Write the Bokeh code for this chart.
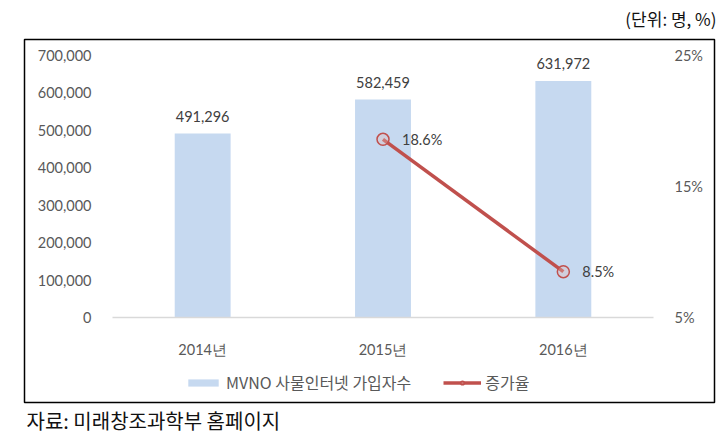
from bokeh.plotting import figure
from bokeh.models import (ColumnDataSource, Range1d, LinearAxis, FixedTicker, Legend, LegendItem,
                          LabelSet, Label, BoxAnnotation, NumeralTickFormatter, PrintfTickFormatter)
from bokeh.core.properties import value
from bokeh.embed import file_html
from bokeh.resources import INLINE

years = ["2014년", "2015년", "2016년"]
subscribers = [491296, 582459, 631972]
growth_years = ["2015년", "2016년"]
growth = [18.6, 8.5]
left_ticks = [0, 100000, 200000, 300000, 400000, 500000, 600000, 700000]
right_ticks = [5, 15, 25]
bar_name = "MVNO 사물인터넷 가입자수"
line_name = "증가율"
unit_text = "(단위: 명, %)"
source_text = "자료: 미래창조과학부 홈페이지"

FONT = "Lato"
KFONT = "Noto Sans CJK KR"
GRAY = "#595959"
BAR = "#C6D9F0"
RED = "#C0504D"
TICK_FS = "14.5px"

# ---- layout (pixels) ----
W, H = 726, 447
PL, PR, PT, PB = 112, 653, 55, 317          # plot area inside canvas
NCAT = len(years)
step = (PR - PL) / NCAT
LMAX, PMIN, PMAX = left_ticks[-1], right_ticks[0], right_ticks[-1]
pp = LMAX / (PB - PT)
ppp = (PMAX - PMIN) / (PB - PT)

xi = list(range(NCAT))
idx = {y: i for i, y in enumerate(years)}

bar_src = ColumnDataSource(dict(x=xi, top=subscribers, lab=[f"{v:,}" for v in subscribers]))
line_src = ColumnDataSource(dict(x=[idx[g] for g in growth_years], y=growth,
                                 lab=[f"{v:.1f}%" for v in growth]))

p = figure(x_range=Range1d(-0.5 - PL / step, -0.5 + (W - PL) / step),
           y_range=Range1d(-(H - PB) * pp, LMAX + PT * pp),
           width=W, height=H, output_backend="svg", toolbar_location=None,
           min_border=0, min_border_left=0, min_border_right=0,
           min_border_top=0, min_border_bottom=0)
p.extra_y_ranges = {"pct": Range1d(PMIN - (H - PB) * ppp, PMAX + PT * ppp)}
p.outline_line_color = None
p.xgrid.visible = False
p.ygrid.visible = False
p.background_fill_color = "white"
p.border_fill_color = "white"

bars = p.vbar(x="x", top="top", width=0.31, source=bar_src, fill_color=BAR, line_color=None)
ln = p.line(x="x", y="y", source=line_src, y_range_name="pct", line_color=RED, line_width=3.5)
sc = p.scatter(x="x", y="y", source=line_src, y_range_name="pct", marker="circle", size=12,
               fill_color="#E6B9B8", fill_alpha=0.35, line_color=RED, line_width=1.5)

p.add_layout(LabelSet(x="x", y="top", text="lab", source=bar_src, text_align="center",
                      text_baseline="middle", y_offset=17, text_font=value(FONT),
                      text_font_size=TICK_FS, text_color="#404040"))
p.add_layout(LabelSet(x="x", y="y", text="lab", source=line_src, y_range_name="pct",
                      text_align="left", text_baseline="middle", x_offset=19,
                      text_font=value(FONT), text_font_size=TICK_FS, text_color="#404040"))

# left axis
ya = p.yaxis[0]
ya.fixed_location = -0.5
ya.ticker = FixedTicker(ticks=left_ticks)
ya.formatter = NumeralTickFormatter(format="0,0")
ya.axis_line_color = None
ya.major_tick_line_color = None
ya.minor_tick_line_color = None
ya.major_label_standoff = 15
ya.major_label_text_font = FONT
ya.major_label_text_font_size = TICK_FS
ya.major_label_text_color = GRAY

# right axis
ra = LinearAxis(y_range_name="pct", ticker=FixedTicker(ticks=right_ticks),
                formatter=PrintfTickFormatter(format="%d%%"), fixed_location=NCAT - 0.5)
ra.axis_line_color = None
ra.major_tick_line_color = None
ra.minor_tick_line_color = None
ra.major_label_standoff = 15
ra.major_label_text_font = FONT
ra.major_label_text_font_size = TICK_FS
ra.major_label_text_color = GRAY
p.add_layout(ra, "right")

# category axis
xa = p.xaxis[0]
xa.fixed_location = 0
xa.bounds = (-0.5, NCAT - 0.5)
xa.ticker = FixedTicker(ticks=xi)
xa.major_label_overrides = {i: y for i, y in enumerate(years)}
xa.axis_line_color = "#D9D9D9"
xa.axis_line_width = 1.5
xa.major_tick_line_color = None
xa.minor_tick_line_color = None
xa.major_label_standoff = 17
xa.major_label_text_font = FONT
xa.major_label_text_font_size = TICK_FS
xa.major_label_text_color = GRAY

legend = Legend(items=[LegendItem(label=bar_name, renderers=[bars]),
                       LegendItem(label=line_name, renderers=[ln, sc])],
                orientation="horizontal", location=(184, 53), border_line_color=None,
                background_fill_alpha=0, glyph_width=38, glyph_height=9, spacing=32,
                label_standoff=4, label_text_font=KFONT, label_text_font_size="16px",
                label_text_color=GRAY, padding=4, margin=0)
p.add_layout(legend, "center")

# outer frame box (screen units, y measured from bottom)
p.add_layout(BoxAnnotation(left=24, right=714, top=H - 39, bottom=H - 402,
                           left_units="screen", right_units="screen",
                           top_units="screen", bottom_units="screen",
                           fill_alpha=0, line_color="black", line_width=1.5, line_alpha=1))

p.add_layout(Label(x=716, y=H - 18, x_units="screen", y_units="screen", text=unit_text,
                   text_align="right", text_baseline="middle", text_font=KFONT,
                   text_font_size="17px", text_color="#111111"))
p.add_layout(Label(x=26, y=H - 420, x_units="screen", y_units="screen", text=source_text,
                   text_align="left", text_baseline="middle", text_font=KFONT,
                   text_font_size="20px", text_color="#111111"))

open("out.html", "w").write(file_html(p, INLINE))
